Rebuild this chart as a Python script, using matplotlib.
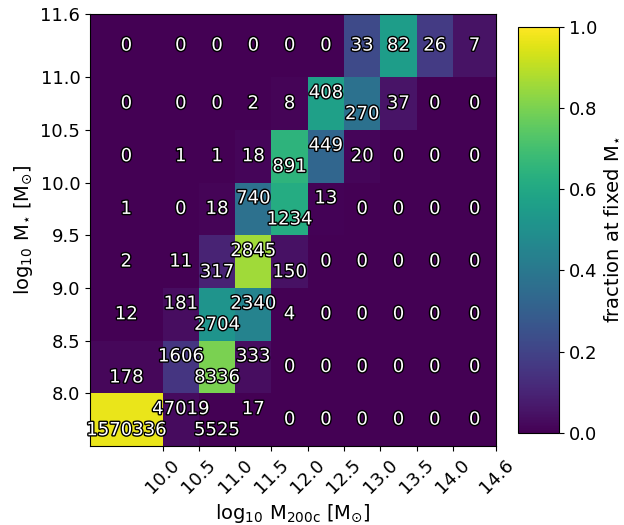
import matplotlib
matplotlib.use('Agg')
import matplotlib.pyplot as plt
import matplotlib.patheffects as pe
import numpy as np

# bin edges
x_edges = [9.0, 10.0, 10.5, 11.0, 11.5, 12.0, 12.5, 13.0, 13.5, 14.0, 14.6]
y_edges = [7.5, 8.0, 8.5, 9.0, 9.5, 10.0, 10.5, 11.0, 11.6]

# galaxy counts per (M*, M200c) bin, rows from lowest M* upward
counts = [
    [1570336, 47019, 5525, 17, 0, 0, 0, 0, 0, 0],
    [178, 1606, 8336, 333, 0, 0, 0, 0, 0, 0],
    [12, 181, 2704, 2340, 4, 0, 0, 0, 0, 0],
    [2, 11, 317, 2845, 150, 0, 0, 0, 0, 0],
    [1, 0, 18, 740, 1234, 13, 0, 0, 0, 0],
    [0, 1, 1, 18, 891, 449, 20, 0, 0, 0],
    [0, 0, 0, 2, 8, 408, 270, 37, 0, 0],
    [0, 0, 0, 0, 0, 0, 33, 82, 26, 7],
]

# vertical nudge of the count labels (in units of 0.1 dex) so neighbours don't collide
label_shift = [
    [-1, 1, -1, 1, 0, 0, 0, 0, 0, 0],
    [-1, 1, -1, 1, 0, 0, 0, 0, 0, 0],
    [0, 1, -1, 1, 0, 0, 0, 0, 0, 0],
    [0, 0, -1, 1, -1, 0, 0, 0, 0, 0],
    [0, 0, 0, 1, -1, 1, 0, 0, 0, 0],
    [0, 0, 0, 0, -1, 1, 0, 0, 0, 0],
    [0, 0, 0, 0, 0, 1, -1, 0, 0, 0],
    [0, 0, 0, 0, 0, 0, 0, 0, 0, 0],
]


def main():
    xe = np.array(x_edges)
    ye = np.array(y_edges)
    N = np.array(counts, dtype=float)
    frac = N / N.sum(axis=1, keepdims=True)

    fig = plt.figure(figsize=(6.24, 5.25), dpi=100)
    ax = fig.add_axes([0.1442, 0.1505, 0.6512, 0.8229])
    cax = fig.add_axes([0.830, 0.1758, 0.0657, 0.7728])

    mesh = ax.pcolormesh(xe, ye, frac, cmap='viridis', vmin=0, vmax=1)

    xc = 0.5 * (xe[1:] + xe[:-1])
    yc = 0.5 * (ye[1:] + ye[:-1])
    for i in range(len(yc)):
        for j in range(len(xc)):
            ax.text(xc[j], yc[i] + 0.1 * label_shift[i][j], '%d' % counts[i][j],
                    ha='center', va='center', color='white', fontsize=13,
                    path_effects=[pe.withStroke(linewidth=2, foreground='black')])

    ax.set_xlim(xe[0], xe[-1])
    ax.set_ylim(ye[0], ye[-1])
    ax.set_xticks(xe[1:])
    ax.set_xticklabels(['%.1f' % v for v in xe[1:]], rotation=45, fontsize=13)
    ax.set_yticks(ye[1:])
    ax.set_yticklabels(['%.1f' % v for v in ye[1:]], fontsize=13)
    ax.set_xlabel(r'log$_{10}$ M$_{\mathrm{200c}}$ [M$_{\odot}$]', fontsize=14)
    ax.set_ylabel(r'log$_{10}$ M$_{\star}$ [M$_{\odot}$]', fontsize=14)

    cb = fig.colorbar(mesh, cax=cax)
    cb.set_label(r'fraction at fixed M$_{\star}$', fontsize=14)
    cb.ax.tick_params(labelsize=13)

    fig.savefig('out.png', dpi=100)


if __name__ == "__main__":
    main()
